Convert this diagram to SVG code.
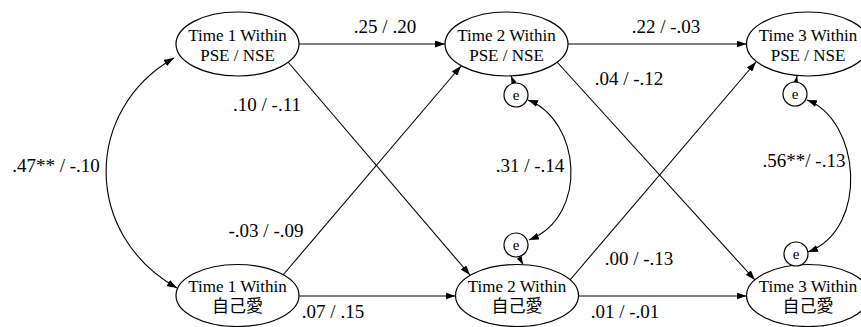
<svg xmlns="http://www.w3.org/2000/svg" width="861" height="327" viewBox="0 0 861 327">
<style>
.node{fill:#fff;stroke:#000;stroke-width:1.2}
.nt{font-family:"Liberation Serif","Noto Sans CJK JP",serif;font-size:17px;text-anchor:middle;fill:#000}
.lb{font-family:"Liberation Serif",serif;font-size:19px;text-anchor:middle;fill:#000}
.e{fill:#fff;stroke:#000;stroke-width:1.2}
.et{font-family:"Liberation Serif",serif;font-size:15px;text-anchor:middle;fill:#000}
.c{fill:none;stroke:#000;stroke-width:1.1}
</style>
<defs>
<marker id="ah" viewBox="0 0 10 7" refX="10" refY="3.5" markerWidth="10" markerHeight="7" markerUnits="userSpaceOnUse" orient="auto-start-reverse">
<path d="M0,0 L10,3.5 L0,7 z" fill="#000"/>
</marker>
<marker id="ahs" viewBox="0 0 10 7" refX="10" refY="3.5" markerWidth="8" markerHeight="6" markerUnits="userSpaceOnUse" orient="auto">
<path d="M0,0 L10,3.5 L0,7 z" fill="#000"/>
</marker>
</defs>
<rect width="861" height="327" fill="#fff"/>
<g id="connectors">
<line class="c" x1="299" y1="44" x2="445" y2="44" marker-end="url(#ah)"/>
<line class="c" x1="568" y1="44" x2="746.5" y2="44" marker-end="url(#ah)"/>
<line class="c" x1="299" y1="296" x2="455.5" y2="296" marker-end="url(#ah)"/>
<line class="c" x1="578.5" y1="296" x2="746.5" y2="296" marker-end="url(#ah)"/>
<line class="c" x1="288" y1="62" x2="470" y2="275" marker-end="url(#ah)"/>
<line class="c" x1="283" y1="275" x2="461" y2="66" marker-end="url(#ah)"/>
<line class="c" x1="557" y1="62" x2="755" y2="280" marker-end="url(#ah)"/>
<line class="c" x1="570" y1="280" x2="756" y2="62" marker-end="url(#ah)"/>
<path class="c" d="M174,58 C83,110 83,235 177,288" marker-start="url(#ah)" marker-end="url(#ah)"/>
<path class="c" d="M528,100 C580,120 590,215 529,240" marker-start="url(#ah)" marker-end="url(#ah)"/>
<path class="c" d="M807,100 C860,120 870,228 808,252" marker-start="url(#ah)" marker-end="url(#ah)"/>
<line class="c" x1="514" y1="83" x2="511" y2="76" marker-end="url(#ahs)"/>
<line class="c" x1="519" y1="257" x2="523" y2="264.5" marker-end="url(#ahs)"/>
<line class="c" x1="796" y1="82" x2="797" y2="76" marker-end="url(#ahs)"/>
<line class="c" x1="799" y1="265" x2="802" y2="269" marker-end="url(#ahs)"/>
</g>
<g id="labels">
<text class="lb" x="385" y="33">.25 / .20</text>
<text class="lb" x="267" y="111">.10 / -.11</text>
<text class="lb" x="266" y="237">-.03 / -.09</text>
<text class="lb" x="333" y="318">.07 / .15</text>
<text class="lb" x="530" y="172">.31 / -.14</text>
<text class="lb" x="666" y="33">.22 / -.03</text>
<text class="lb" x="629" y="85">.04 / -.12</text>
<text class="lb" x="639" y="265">.00 / -.13</text>
<text class="lb" x="625" y="318">.01 / -.01</text>
<text class="lb" x="804" y="167">.56**/ -.13</text>
<text class="lb" x="56" y="172">.47** / -.10</text>
</g>
<g id="t1pse"><ellipse class="node" cx="237.5" cy="44" rx="61.5" ry="32"/><text class="nt" x="237.5" y="40.5">Time 1 Within</text><text class="nt" x="237.5" y="60.5">PSE / NSE</text></g>
<g id="t2pse"><ellipse class="node" cx="506.5" cy="44" rx="61.5" ry="32"/><text class="nt" x="506.5" y="40.5">Time 2 Within</text><text class="nt" x="506.5" y="60.5">PSE / NSE</text></g>
<g id="t3pse"><ellipse class="node" cx="808" cy="44" rx="61.5" ry="32"/><text class="nt" x="808" y="40.5">Time 3 Within</text><text class="nt" x="808" y="60.5">PSE / NSE</text></g>
<g id="t1self"><ellipse class="node" cx="237.5" cy="295.5" rx="61.5" ry="31"/><text class="nt" x="237.5" y="292">Time 1 Within</text><text class="nt" x="237.5" y="312">自己愛</text></g>
<g id="t2self"><ellipse class="node" cx="517" cy="295.5" rx="61.5" ry="31"/><text class="nt" x="517" y="292">Time 2 Within</text><text class="nt" x="517" y="312">自己愛</text></g>
<g id="t3self"><ellipse class="node" cx="808" cy="295.5" rx="61.5" ry="31"/><text class="nt" x="808" y="292">Time 3 Within</text><text class="nt" x="808" y="312">自己愛</text></g>
<g id="e2pse"><circle class="e" cx="516" cy="95" r="12"/><text class="et" x="516" y="100">e</text></g>
<g id="e2self"><circle class="e" cx="516" cy="245" r="12"/><text class="et" x="516" y="250">e</text></g>
<g id="e3pse"><circle class="e" cx="795" cy="94" r="12"/><text class="et" x="795" y="99">e</text></g>
<g id="e3self"><circle class="e" cx="796" cy="254" r="12"/><text class="et" x="796" y="259">e</text></g>
</svg>
